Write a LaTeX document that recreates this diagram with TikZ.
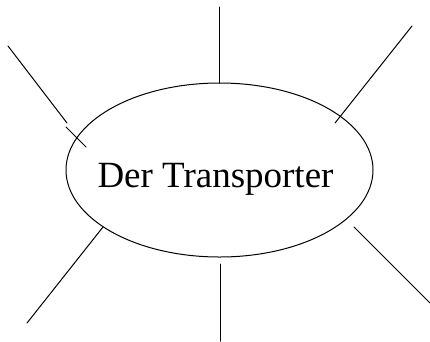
\documentclass[tikz,border=0pt]{standalone}
\usepackage{fontspec}
\setmainfont{Liberation Serif}
\usetikzlibrary{shapes.geometric}
\begin{document}
\begin{tikzpicture}[x=1pt,y=-1pt,
  spoke/.style={line width=1pt, line cap=round},
  hub/.style={ellipse, draw, line width=1pt, minimum width=307pt,
    minimum height=174pt, inner sep=0pt, outer sep=0pt},
  title/.style={inner sep=0pt, anchor=base, font=\fontsize{37}{40}\selectfont}]
  \useasboundingbox (0,0) rectangle (430,341);
  \node[hub] (e) at (219.5,170) {};
  \node[title] (lbl) at (215.5,187) {Der Transporter};
  % free ends of the spokes
  \coordinate (t1) at (219.5,7);
  \coordinate (tr0) at (335,123);
  \coordinate (tr1) at (412,26);
  \coordinate (tl0) at (67,123);
  \coordinate (tl1) at (8,46);
  \coordinate (ta) at (66,127);
  \coordinate (tb) at (86,147);
  \coordinate (bl0) at (103,227);
  \coordinate (bl1) at (27,323);
  \coordinate (b0) at (220,264);
  \coordinate (b1) at (220,341);
  \coordinate (br0) at (354,227);
  \coordinate (br1) at (430,303);
  \draw[spoke] (e.north) -- (t1);
  \draw[spoke] (tr0) -- (tr1);
  \draw[spoke] (tl0) -- (tl1);
  \draw[spoke] (ta) -- (tb);
  \draw[spoke] (bl0) -- (bl1);
  \draw[spoke] (b0) -- (b1);
  \draw[spoke] (br0) -- (br1);
\end{tikzpicture}
\end{document}
